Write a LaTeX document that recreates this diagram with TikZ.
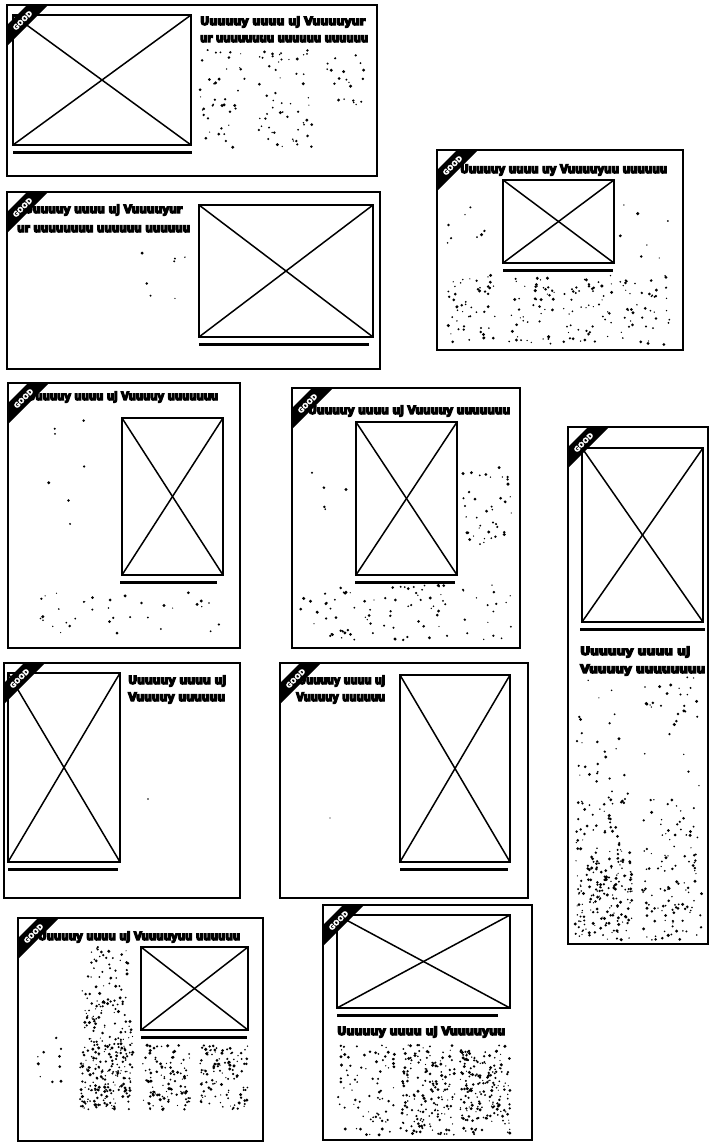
\documentclass[tikz,border=0pt]{standalone}
\usepackage{fontspec}
\usepackage{graphicx}
\newfontfamily\ttlfont{DejaVu Sans}[UprightFont={* Bold}, UprightFeatures={FakeBold=12}]
\newfontfamily\tagfont{DejaVu Sans}[UprightFont={* Bold}, UprightFeatures={FakeBold=3}]
\tikzset{
  panel/.style={draw=black, line width=1.6pt, fill=white},
  imgbox/.style={draw=black, line width=2.6pt},
  cross/.style={draw=black, line width=1.5pt},
  uline/.style={draw=black, line width=3pt},
  ribbonband/.style={fill=black},
  ribbontext/.style={text=white, font=\tagfont\fontsize{7.2}{8}\selectfont, inner sep=0pt, rotate=45},
  ttl/.style={anchor=base west, inner sep=0pt}
}
\newcommand{\pagebox}[4]{\draw[panel] (#1,#2) rectangle (#3,#4);}
\newcommand{\picbox}[6]{%
  \draw[imgbox] (#1,#2) rectangle (#3,#4);
  \draw[cross] (#1,#2) -- (#3,#4);
  \draw[cross] (#1,#4) -- (#3,#2);
  \draw[uline] (#5,{#4+7}) -- (#6,{#4+7});}
\newcommand{\goodtag}[3]{%
  \fill[ribbonband] (#1,{#2+20}) -- ({#1+20},#2) -- ({#1+41},#2) -- (#1,{#2+41}) -- cycle;
  \node[ribbontext] (#3) at ({#1+15.5},{#2+15.5}) {GOOD};}
\newcommand{\ttlline}[5]{\node[ttl] (#5) at (#1,#2) {\resizebox{#3pt}{8.5pt}{\ttlfont\vphantom{U}#4}};}
\newcommand{\dotfield}[5]{%
  \foreach \k in {1,...,#5}{%
    \pgfmathsetmacro{\pdx}{#1+rnd*(#3-#1)}%
    \pgfmathsetmacro{\pdy}{#2+rnd*(#4-#2)}%
    \pgfmathsetmacro{\pdr}{0.6+rnd*1.1}%
    \fill[black] (\pdx,\pdy) circle[radius=\pdr pt];}}
\begin{document}
\begin{tikzpicture}[x=1pt,y=-1pt]
\pgfmathsetseed{4242}
\useasboundingbox[fill=white] (0,0) rectangle (709,1143);
% ---------- Panel 1
\pagebox{7}{5}{377}{176}
\picbox{13}{15}{191}{145}{13}{192}
\ttlline{200}{25}{165}{Uuuuuy uuuu uj Vuuuuyur}{t1a}
\ttlline{200}{42}{168}{ur uuuuuuuu uuuuuu uuuuuu}{t1b}
\dotfield{200}{50}{245}{148}{40}
\dotfield{258}{50}{312}{148}{55}
\dotfield{318}{55}{365}{105}{20}
\goodtag{7}{5}{g1}
% ---------- Panel 2
\pagebox{7}{192}{380}{369}
\picbox{199}{205}{373}{337}{199}{369}
\ttlline{24}{213}{158}{Uuuuuy uuuu uj Vuuuuyur}{t2a}
\ttlline{17}{232}{173}{ur uuuuuuuu uuuuuu uuuuuu}{t2b}
\dotfield{140}{250}{185}{320}{7}
\goodtag{7}{192}{g2}
% ---------- Panel 3
\pagebox{437}{150}{683}{350}
\picbox{503}{180}{614}{263}{503}{613}
\ttlline{460}{173}{207}{Uuuuuy uuuu uy Vuuuuyuu uuuuuu}{t3a}
\dotfield{445}{190}{495}{265}{8}
\dotfield{620}{200}{670}{265}{7}
\dotfield{447}{275}{495}{345}{50}
\dotfield{508}{275}{555}{345}{50}
\dotfield{562}{275}{612}{345}{50}
\dotfield{620}{275}{670}{345}{45}
\goodtag{437}{150}{g3}
% ---------- Panel 4
\pagebox{8}{383}{240}{648}
\picbox{122}{418}{223}{575}{120}{217}
\ttlline{27}{400}{191}{Uuuuuy uuuu uj Vuuuuy uuuuuuu}{t4a}
\dotfield{45}{420}{100}{530}{7}
\dotfield{40}{590}{225}{635}{35}
\goodtag{8}{383}{g4}
% ---------- Panel 5
\pagebox{292}{388}{520}{648}
\picbox{356}{422}{457}{575}{355}{455}
\ttlline{308}{414}{202}{Uuuuuy uuuu uj Vuuuuy uuuuuuu}{t5a}
\dotfield{300}{455}{350}{520}{5}
\dotfield{462}{465}{512}{545}{40}
\dotfield{300}{585}{515}{640}{90}
\goodtag{292}{388}{g5}
% ---------- Panel 6
\pagebox{568}{427}{708}{944}
\picbox{582}{448}{703}{622}{580}{705}
\ttlline{580}{655}{110}{Uuuuuy uuuu uj}{t6a}
\ttlline{580}{673}{125}{Vuuuuy uuuuuuuu}{t6b}
\dotfield{575}{680}{630}{790}{25}
\dotfield{575}{790}{630}{860}{55}
\dotfield{575}{860}{632}{940}{170}
\dotfield{642}{670}{700}{720}{25}
\dotfield{642}{720}{700}{800}{8}
\dotfield{642}{800}{700}{860}{35}
\dotfield{642}{860}{702}{940}{85}
\goodtag{568}{427}{g6}
% ---------- Panel 7
\pagebox{4}{663}{240}{898}
\picbox{8}{673}{120}{862}{8}{118}
\ttlline{128}{684}{98}{Uuuuuy uuuu uj}{t7a}
\ttlline{128}{701}{97}{Vuuuuy uuuuuu}{t7b}
\fill (148,799) circle[radius=0.8pt];
\goodtag{4}{663}{g7}
% ---------- Panel 8
\pagebox{280}{663}{528}{898}
\picbox{400}{675}{510}{862}{400}{508}
\ttlline{298}{684}{87}{Uuuuuy uuuu uj}{t8a}
\ttlline{296}{701}{89}{Vuuuuy uuuuuu}{t8b}
\fill (330,818) circle[radius=0.7pt];
\goodtag{280}{663}{g8}
% ---------- Panel 9
\pagebox{18}{918}{263}{1141}
\picbox{141}{947}{248}{1030}{141}{247}
\ttlline{38}{940}{202}{Uuuuuy uuuu uj Vuuuuyuu uuuuuu}{t9a}
\dotfield{82}{945}{133}{1000}{45}
\dotfield{82}{1000}{133}{1040}{65}
\dotfield{80}{1040}{133}{1110}{200}
\dotfield{142}{1045}{190}{1110}{110}
\dotfield{200}{1045}{248}{1110}{110}
\dotfield{35}{1030}{75}{1085}{10}
\goodtag{18}{918}{g9}
% ---------- Panel 10
\pagebox{323}{905}{532}{1140}
\picbox{337}{915}{510}{1008}{337}{498}
\ttlline{337}{1035}{168}{Uuuuuy uuuu uj Vuuuuyuu}{t10a}
\dotfield{337}{1045}{395}{1135}{80}
\dotfield{400}{1045}{455}{1135}{170}
\dotfield{460}{1045}{510}{1135}{190}
\goodtag{323}{905}{g10}
\end{tikzpicture}
\end{document}
